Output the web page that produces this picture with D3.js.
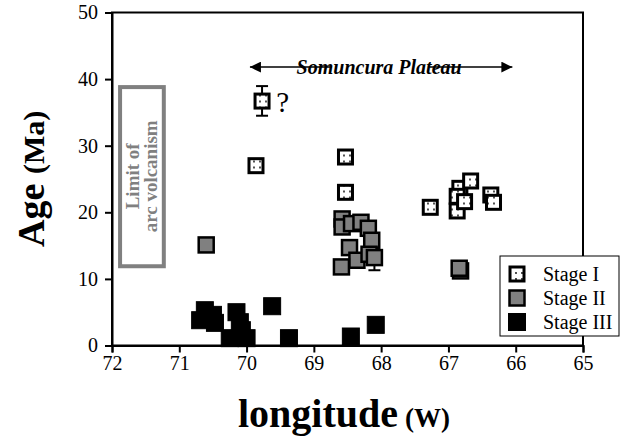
<!DOCTYPE html>
<html>
<head>
<meta charset="utf-8">
<script src="https://cdn.jsdelivr.net/npm/d3@7"></script>
<style>
body { margin:0; background:#fff; }
text { font-family:"Liberation Serif", serif; }
</style>
</head>
<body>
<svg id="age-plot" width="627" height="441"></svg>
<script>
// values (longitude in degrees W, age in Ma)
var stage1Lon = [69.77, 69.86, 68.53, 68.53, 67.27, 66.83, 66.87, 66.87, 66.67, 66.76, 66.37, 66.33]
var stage1Age = [36.7, 27.0, 28.3, 23.0, 20.75, 23.6, 22.4, 20.2, 24.7, 21.6, 22.6, 21.5]

var stage2Lon = [70.6, 68.58, 68.58, 68.44, 68.3, 68.19, 68.14, 68.47, 68.36, 68.59, 68.18, 68.1, 66.82, 66.84]
var stage2Age = [15.1, 19.0, 17.8, 18.3, 18.5, 17.6, 15.8, 14.7, 12.8, 11.8, 13.7, 13.2, 11.2, 11.6]

var stage3Lon = [70.62, 70.69, 70.47, 70.5, 70.15, 70.1, 70.07, 70.25, 70.0, 69.62, 69.37, 68.45, 68.08]
var stage3Age = [5.3, 3.8, 3.4, 4.6, 5.0, 3.5, 2.3, 1.1, 1.1, 5.9, 1.1, 1.35, 3.1]

// error bars
var errLon = [69.77, 68.1]
var errLow = [34.5, 11.3]
var errHigh = [38.95, 13.2]

var xTicks = [72, 71, 70, 69, 68, 67, 66, 65]
var yTicks = [0, 10, 20, 30, 40, 50]
var stageNames = ["Stage I", "Stage II", "Stage III"]

var serif = "Liberation Serif"
var screen = {width:627, height:441}
var margin = {left:112, right:44, top:12.5, bottom:95.5}
var graph = {
    width: screen.width - margin.left - margin.right,
    height: screen.height - margin.top - margin.bottom
}

var svg = d3.select("#age-plot")

var defs = svg.append("defs")
var pat = defs.append("pattern")
    .attr("id", "dots")
    .attr("width", 6).attr("height", 6)
    .attr("patternUnits", "userSpaceOnUse")
    .attr("x", 1).attr("y", 2)
pat.append("rect").attr("width", 6).attr("height", 6).attr("fill", "#fff")
pat.append("circle").attr("cx", 3).attr("cy", 3).attr("r", 0.9).attr("fill", "#000")

defs.append("marker")
    .attr("id", "arrow")
    .attr("viewBox", "0 0 10 10")
    .attr("refX", 10).attr("refY", 5)
    .attr("markerWidth", 15).attr("markerHeight", 11)
    .attr("markerUnits", "userSpaceOnUse")
    .attr("orient", "auto")
  .append("path")
    .attr("d", "M0,0L10,5L0,10Z")
    .attr("fill", "#000")

var target = svg.append("g")
    .attr("transform", "translate(" + margin.left + "," + margin.top + ")")

var xScale = d3.scaleLinear().domain([72, 65]).range([0, graph.width])
var yScale = d3.scaleLinear().domain([0, 50]).range([graph.height, 0])

// frame
target.append("rect")
    .attr("width", graph.width).attr("height", graph.height)
    .attr("fill", "none").attr("stroke", "#000").attr("stroke-width", 2)

// axes
var xAxis = d3.axisBottom(xScale).tickValues(xTicks).tickFormat(d3.format("d")).tickSize(7).tickPadding(3)
var yAxis = d3.axisLeft(yScale).tickValues(yTicks).tickFormat(d3.format("d")).tickSize(7).tickPadding(7)

var gx = target.append("g").attr("transform", "translate(0," + graph.height + ")").call(xAxis)
var gy = target.append("g").call(yAxis)
;[gx, gy].forEach(function(g) {
    g.attr("font-family", serif).attr("font-size", 20)
    g.select(".domain").attr("stroke-width", 2)
    g.selectAll(".tick line").attr("stroke-width", 2)
    g.selectAll(".tick text")
        .attr("font-family", serif)
        .attr("font-size", 20)
        .attr("fill", "#000")
})

// limit of arc volcanism box
target.append("rect")
    .attr("x", xScale(71.88)).attr("y", yScale(38.8))
    .attr("width", xScale(71.23) - xScale(71.88))
    .attr("height", yScale(11.9) - yScale(38.8))
    .attr("fill", "none").attr("stroke", "#808080").attr("stroke-width", 4)

var boxText = target.append("text")
    .attr("transform", "translate(" + xScale(71.555) + "," + yScale(25.4) + ") rotate(-90)")
    .attr("text-anchor", "middle")
    .attr("fill", "#808080")
    .attr("font-family", serif)
    .attr("font-weight", "bold")
    .attr("font-size", 19)
boxText.append("tspan").attr("x", 0).attr("dy", -3).text("Limit of")
boxText.append("tspan").attr("x", 0).attr("dy", 18).text("arc volcanism")

// Somuncura Plateau arrows
target.append("line")
    .attr("x1", xScale(68.73)).attr("x2", xScale(69.95))
    .attr("y1", yScale(41.8)).attr("y2", yScale(41.8))
    .attr("stroke", "#000").attr("stroke-width", 1.5)
    .attr("marker-end", "url(#arrow)")
target.append("line")
    .attr("x1", xScale(67.3)).attr("x2", xScale(66.05))
    .attr("y1", yScale(41.8)).attr("y2", yScale(41.8))
    .attr("stroke", "#000").attr("stroke-width", 1.5)
    .attr("marker-end", "url(#arrow)")
target.append("text")
    .attr("x", xScale(68.03)).attr("y", yScale(41.8) + 6.5)
    .attr("text-anchor", "middle")
    .attr("font-family", serif)
    .attr("font-size", 20).attr("font-weight", "bold").attr("font-style", "italic")
    .text("Somuncura Plateau")

// question mark
target.append("text")
    .attr("x", xScale(69.56)).attr("y", yScale(35.1))
    .attr("font-family", serif)
    .attr("font-size", 29)
    .text("?")

// error bars
var errData = errLon.map(function(d, i) { return {lon:d, lo:errLow[i], hi:errHigh[i]} })
var eb = target.selectAll(".err").data(errData).enter().append("g").attr("class", "err")
    .attr("stroke", "#000").attr("stroke-width", 2)
eb.append("line")
    .attr("x1", d => xScale(d.lon)).attr("x2", d => xScale(d.lon))
    .attr("y1", d => yScale(d.lo)).attr("y2", d => yScale(d.hi))
eb.append("line")
    .attr("x1", d => xScale(d.lon) - 6).attr("x2", d => xScale(d.lon) + 6)
    .attr("y1", d => yScale(d.lo)).attr("y2", d => yScale(d.lo))
eb.append("line")
    .attr("x1", d => xScale(d.lon) - 6).attr("x2", d => xScale(d.lon) + 6)
    .attr("y1", d => yScale(d.hi)).attr("y2", d => yScale(d.hi))

// points
var styles = [
    {fill:"url(#dots)", stroke:"#000", sw:3, size:14},
    {fill:"#808080", stroke:"#000", sw:2.5, size:15},
    {fill:"#000", stroke:"#000", sw:1, size:17}
]
var drawStage = function(lons, ages, st) {
    var pts = lons.map(function(d, i) { return {lon:d, age:ages[i]} })
    target.append("g").selectAll("rect")
        .data(pts)
        .enter()
        .append("rect")
            .attr("x", d => xScale(d.lon) - st.size / 2)
            .attr("y", d => yScale(d.age) - st.size / 2)
            .attr("width", st.size).attr("height", st.size)
            .attr("fill", st.fill).attr("stroke", st.stroke).attr("stroke-width", st.sw)
}
drawStage(stage3Lon, stage3Age, styles[2])
drawStage(stage2Lon, stage2Age, styles[1])
drawStage(stage1Lon, stage1Age, styles[0])

// legend
var legend = svg.append("g").attr("transform", "translate(500,256)")
legend.append("rect")
    .attr("width", 119).attr("height", 80)
    .attr("fill", "#fff").attr("stroke", "#000").attr("stroke-width", 1)
legend.selectAll(".lg-mark")
    .data(stageNames)
    .enter()
    .append("rect")
        .attr("x", (d, i) => 17 - styles[i].size / 2)
        .attr("y", (d, i) => 18 + i * 24 - styles[i].size / 2)
        .attr("width", (d, i) => styles[i].size).attr("height", (d, i) => styles[i].size)
        .attr("fill", (d, i) => styles[i].fill)
        .attr("stroke", "#000")
        .attr("stroke-width", (d, i) => styles[i].sw)
legend.selectAll(".lg-text")
    .data(stageNames)
    .enter()
    .append("text")
        .attr("x", 43)
        .attr("y", (d, i) => 18 + i * 24 + 7)
        .attr("font-family", serif)
        .attr("font-size", 20)
        .text(d => d)

// axis titles (separate text pieces so each keeps its own size)
svg.append("text")
    .attr("transform", "translate(44,247) rotate(-90)")
    .attr("font-family", serif).attr("font-weight", "bold").attr("font-size", 38)
    .text("Age")
svg.append("text")
    .attr("transform", "translate(44,174) rotate(-90)")
    .attr("font-family", serif).attr("font-weight", "bold").attr("font-size", 30)
    .text("(Ma)")

svg.append("text")
    .attr("x", 238).attr("y", 427)
    .attr("font-family", serif).attr("font-weight", "bold").attr("font-size", 40)
    .text("longitude")
svg.append("text")
    .attr("x", 405).attr("y", 427)
    .attr("font-family", serif).attr("font-weight", "bold").attr("font-size", 27)
    .text("(W)")
</script>
</body>
</html>
